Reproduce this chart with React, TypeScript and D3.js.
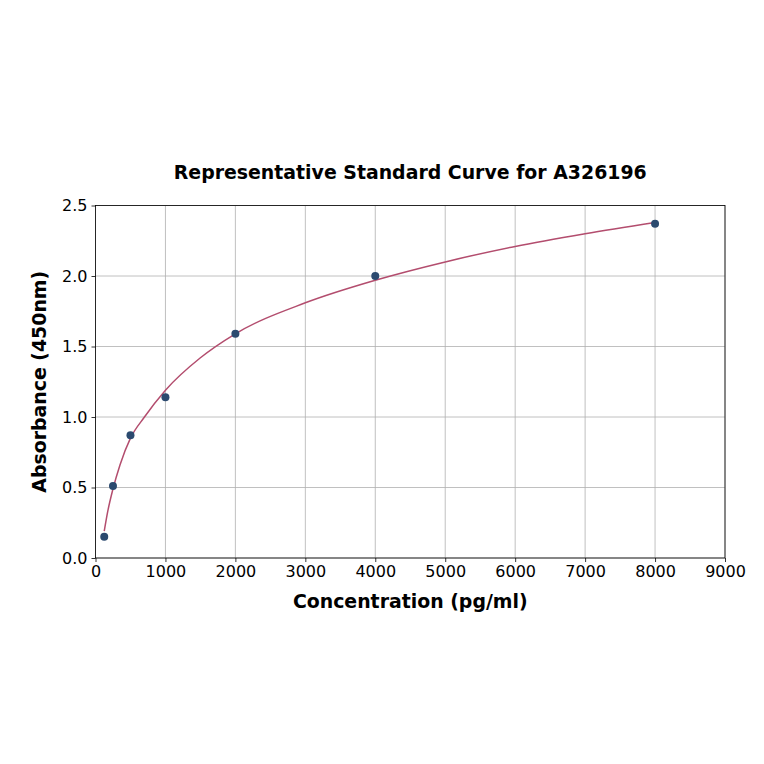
import React, { useEffect, useRef } from 'react';
import * as d3 from 'd3';

// standards measured (pg/ml vs OD 450nm)
const concentrations = [125, 250, 500, 1000, 2000, 4000, 8000];
const absorbances = [0.15, 0.51, 0.87, 1.14, 1.59, 2.0, 2.37];

// fitted curve
const fitX = [125, 175, 250, 350, 500, 700, 1000, 1500, 2000, 3000, 4000, 5000, 6000, 7000, 8000];
const fitY = [0.19, 0.33, 0.49, 0.66, 0.85, 1.0, 1.19, 1.42, 1.59, 1.81, 1.97, 2.1, 2.21, 2.3, 2.38];

const xTicks = [0, 1000, 2000, 3000, 4000, 5000, 6000, 7000, 8000, 9000];
const yTicks = [0, 0.5, 1.0, 1.5, 2.0, 2.5];

const title = 'Representative Standard Curve for A326196';
const xLabel = 'Concentration (pg/ml)';
const yLabel = 'Absorbance (450nm)';

const W = 764;
const H = 764;

const App: React.FC = () => {
  const svgRef = useRef<SVGSVGElement>(null);

  useEffect(() => {
    document.body.style.margin = '0';
    if (!svgRef.current) return;
    const svg = d3.select(svgRef.current);
    svg.selectAll('*').remove();

    const margin = { top: 205.5, right: 39, bottom: 206, left: 95.5 };
    const width = W - margin.left - margin.right;
    const height = H - margin.top - margin.bottom;
    const font = 'DejaVu Sans, sans-serif';

    const g = svg.append('g').attr('transform', `translate(${margin.left},${margin.top})`);

    const x = d3.scaleLinear().domain([0, 9000]).range([0, width]);
    const y = d3.scaleLinear().domain([0, 2.5]).range([height, 0]);

    // grid
    g.append('g')
      .selectAll('line')
      .data(xTicks)
      .join('line')
      .attr('x1', d => x(d))
      .attr('x2', d => x(d))
      .attr('y1', 0)
      .attr('y2', height)
      .attr('stroke', '#b0b0b0')
      .attr('stroke-width', 0.8);
    g.append('g')
      .selectAll('line')
      .data(yTicks)
      .join('line')
      .attr('x1', 0)
      .attr('x2', width)
      .attr('y1', d => y(d))
      .attr('y2', d => y(d))
      .attr('stroke', '#b0b0b0')
      .attr('stroke-width', 0.8);

    // axes
    const xAxis = g.append('g')
      .attr('transform', `translate(0,${height})`)
      .call(d3.axisBottom(x).tickValues(xTicks).tickSize(4).tickPadding(3.5).tickFormat(d3.format('d')));
    const yAxis = g.append('g')
      .call(d3.axisLeft(y).tickValues(yTicks).tickSize(4).tickPadding(4).tickFormat(d3.format('.1f')));
    [xAxis, yAxis].forEach(a => {
      a.select('.domain').remove();
      a.selectAll('line').attr('stroke', '#000').attr('stroke-width', 0.8);
      a.selectAll('text').attr('font-family', font).attr('font-size', 16).attr('fill', '#000');
    });

    // frame
    g.append('rect')
      .attr('width', width)
      .attr('height', height)
      .attr('fill', 'none')
      .attr('stroke', '#000')
      .attr('stroke-width', 0.8);

    // fitted curve
    const pts = fitX.map((c, i) => [c, fitY[i]] as [number, number]);
    g.append('path')
      .datum(pts)
      .attr('fill', 'none')
      .attr('stroke', '#b34d6e')
      .attr('stroke-width', 1.5)
      .attr('d', d3.line<[number, number]>()
        .x(d => x(d[0]))
        .y(d => y(d[1]))
        .curve(d3.curveMonotoneX));

    // standards
    g.append('g')
      .selectAll('circle')
      .data(concentrations)
      .join('circle')
      .attr('cx', d => x(d))
      .attr('cy', (d, i) => y(absorbances[i]))
      .attr('r', 4)
      .attr('fill', '#2b4a6f');

    // labels
    svg.append('text')
      .attr('x', margin.left + width / 2)
      .attr('y', 179)
      .attr('text-anchor', 'middle')
      .attr('font-family', font)
      .attr('font-weight', 'bold')
      .attr('font-size', 18.9)
      .text(title);

    svg.append('text')
      .attr('x', margin.left + width / 2)
      .attr('y', 608)
      .attr('text-anchor', 'middle')
      .attr('font-family', font)
      .attr('font-weight', 'bold')
      .attr('font-size', 18.9)
      .text(xLabel);

    svg.append('text')
      .attr('transform', `translate(46,${margin.top + height / 2}) rotate(-90)`)
      .attr('text-anchor', 'middle')
      .attr('font-family', font)
      .attr('font-weight', 'bold')
      .attr('font-size', 18.9)
      .text(yLabel);
  }, []);

  return <svg ref={svgRef} width={W} height={H} style={{ display: 'block', background: '#fff' }} />;
};

export default App;
